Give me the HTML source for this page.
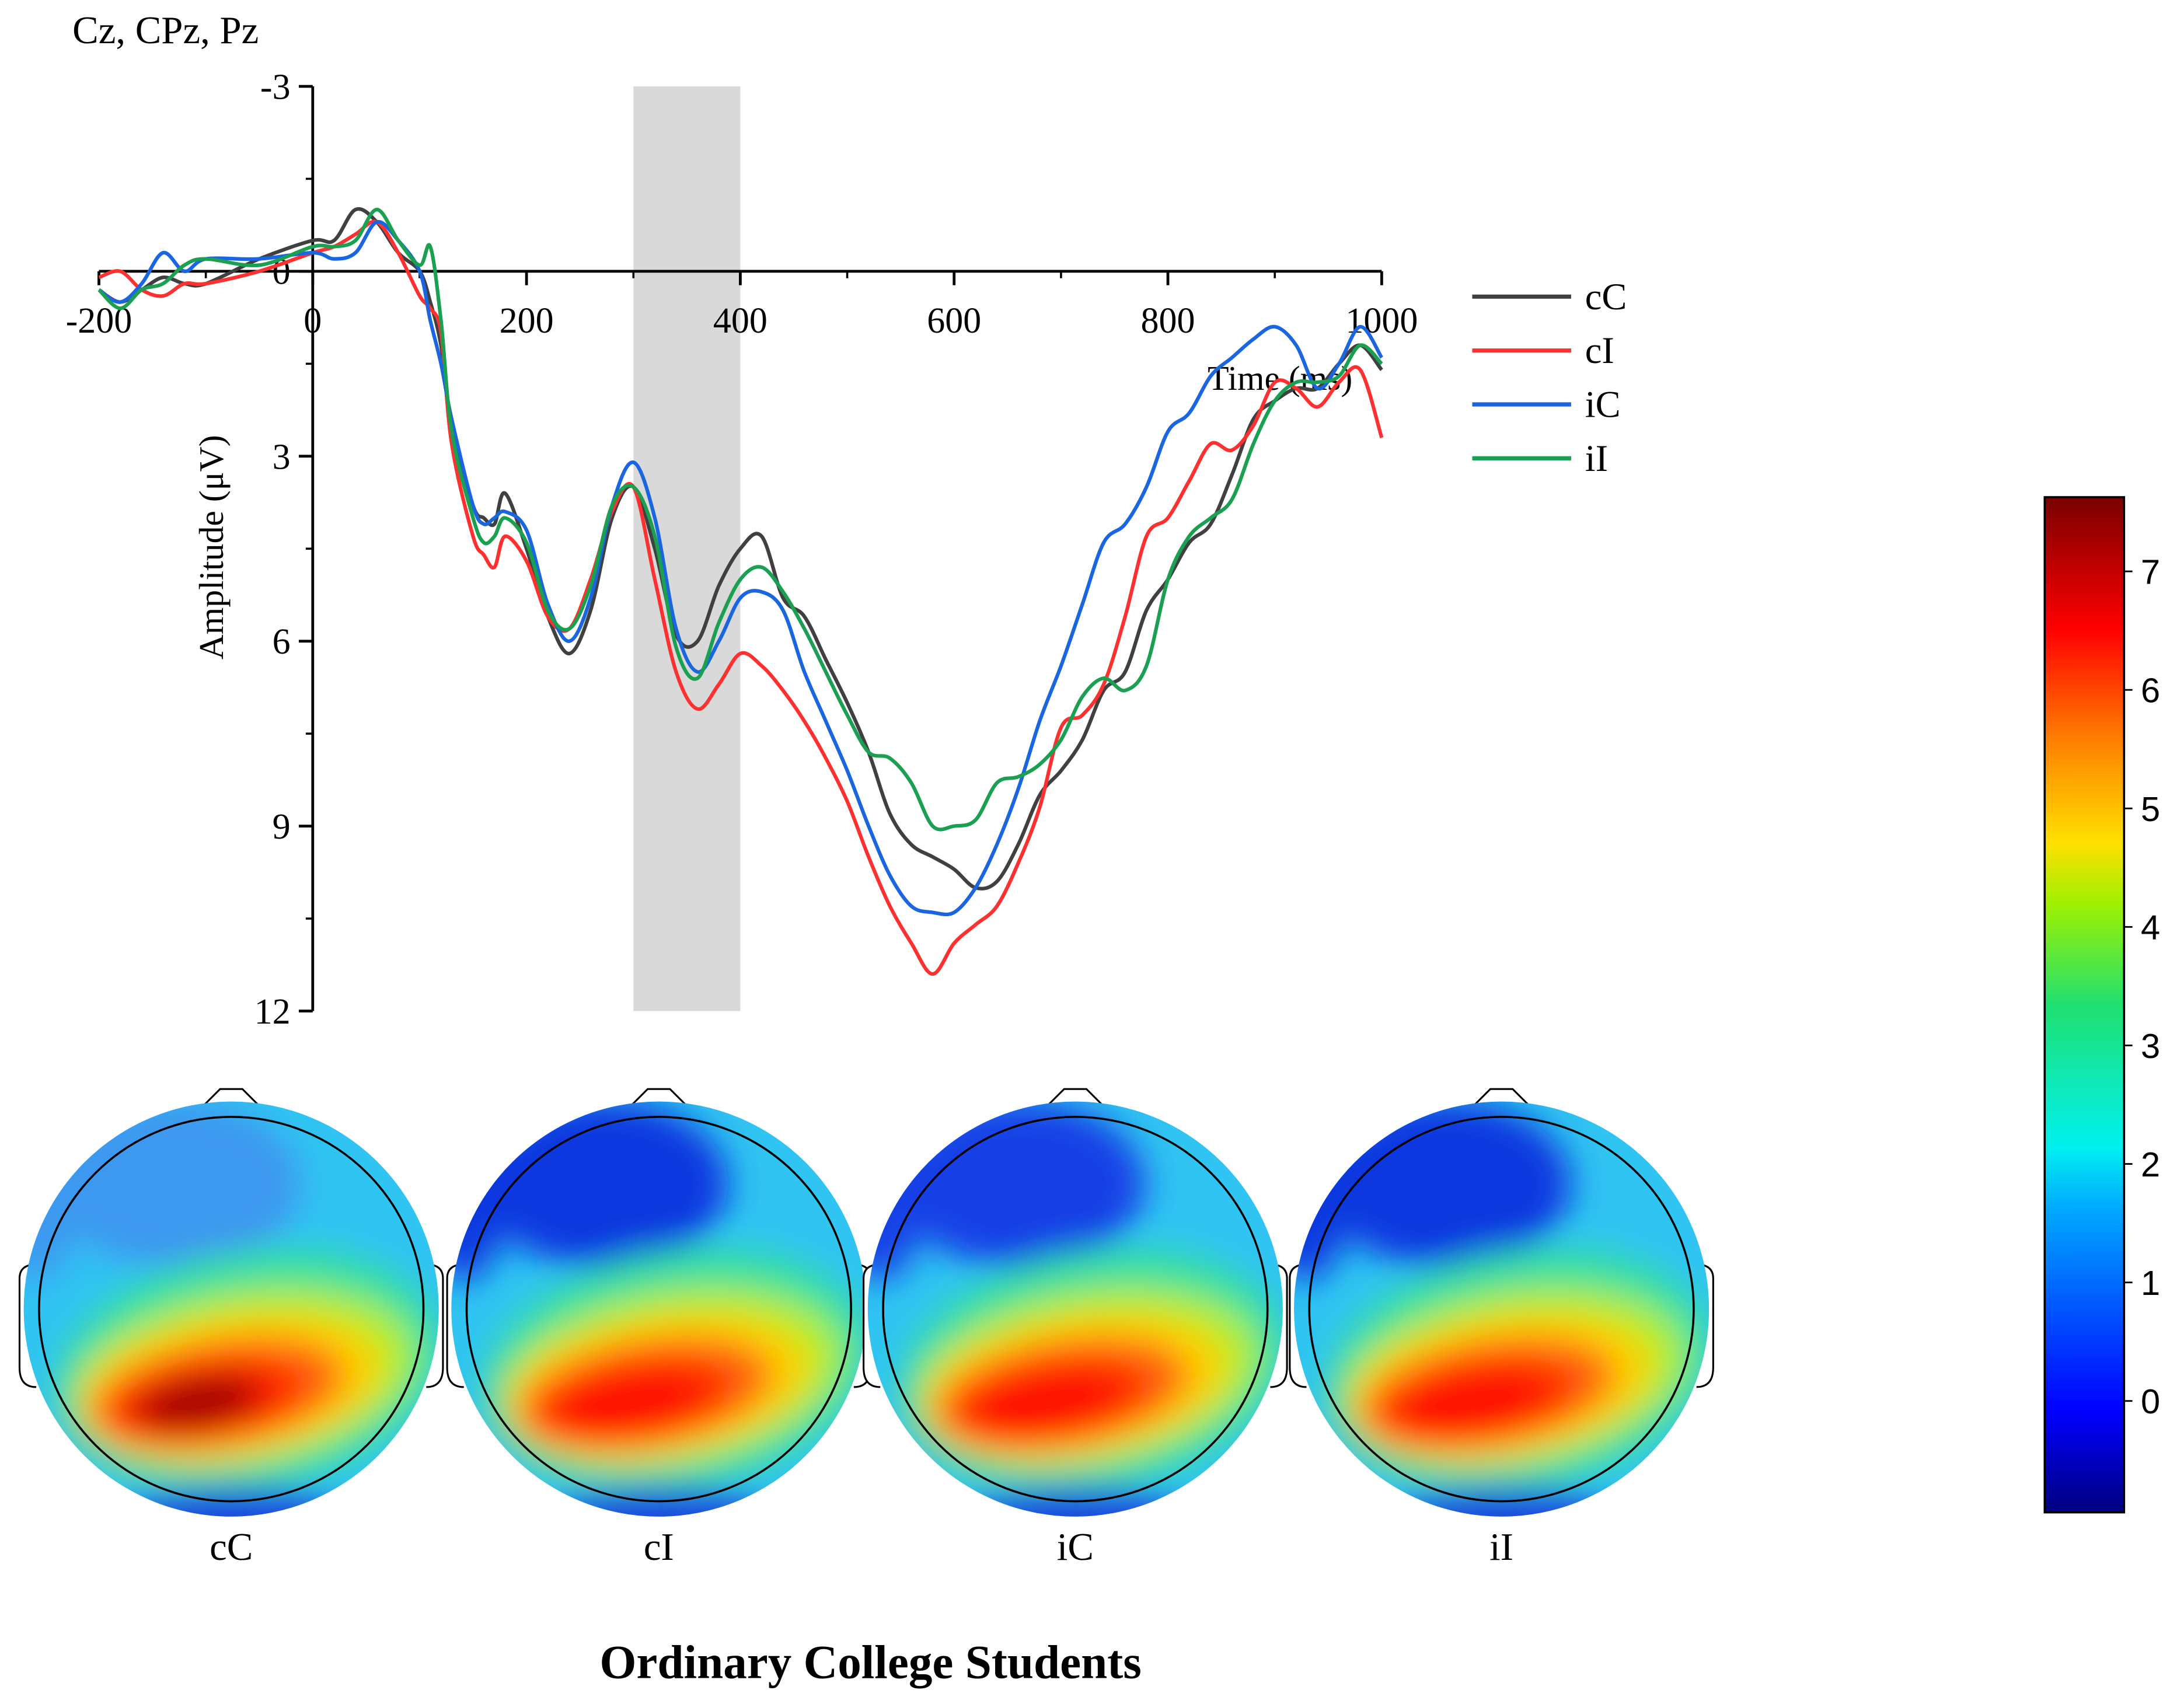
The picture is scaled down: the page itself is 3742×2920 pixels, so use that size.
<!DOCTYPE html>
<html><head><meta charset="utf-8">
<style>
html,body{margin:0;padding:0;background:#fff;}
svg{display:block;}
text{font-family:"Liberation Serif",serif;fill:#000;}
</style></head>
<body>
<svg id="chart" width="3742" height="2920" viewBox="0 0 1568 1223.6" xmlns="http://www.w3.org/2000/svg">
<defs>
  <filter id="blur" x="-30%" y="-30%" width="160%" height="160%"><feGaussianBlur stdDeviation="12"/></filter>
  <linearGradient id="cbar" x1="0" y1="1" x2="0" y2="0">
    <stop offset="0" stop-color="#00007f"/>
    <stop offset="0.1" stop-color="#0000ff"/>
    <stop offset="0.3" stop-color="#00aaff"/>
    <stop offset="0.36" stop-color="#00f0f0"/>
    <stop offset="0.5" stop-color="#20e070"/>
    <stop offset="0.6" stop-color="#a0f000"/>
    <stop offset="0.66" stop-color="#ffe000"/>
    <stop offset="0.76" stop-color="#ff8000"/>
    <stop offset="0.87" stop-color="#ff0000"/>
    <stop offset="1" stop-color="#7a0000"/>
  </linearGradient>
</defs>
<g id="plot"></g>
<g id="topos"></g>
<g id="colorbar"></g>
<text x="625" y="1205" text-anchor="middle" font-size="34" font-weight="bold">Ordinary College Students</text>
</svg>
<script>
const NS="http://www.w3.org/2000/svg";
const times=[-200,-180,-160,-140,-120,-100,-50,0,20,40,60,80,100,110,120,130,150,160,170,180,200,220,240,260,280,300,320,340,360,380,400,420,440,460,480,500,520,540,560,580,600,620,640,660,680,700,720,740,760,780,800,820,840,860,880,900,920,940,960,980,1000];
const cC=[0.3,0.5,0.3,0.1,0.2,0.2,-0.2,-0.5,-0.5,-1.0,-0.8,-0.3,0,0.5,1.2,2.5,3.8,4.0,4.1,3.6,4.5,5.6,6.2,5.5,4.0,3.5,4.5,5.9,6.0,5.1,4.5,4.3,5.3,5.6,6.3,7.0,7.8,8.8,9.3,9.5,9.7,10.0,9.9,9.3,8.5,8.1,7.6,6.8,6.5,5.5,5.0,4.4,4.1,3.3,2.4,2.1,1.9,1.9,1.5,1.2,1.6];
const cI=[0.1,0.0,0.3,0.4,0.2,0.2,0.0,-0.3,-0.4,-0.6,-0.8,-0.3,0.4,0.6,1.0,2.8,4.3,4.6,4.8,4.3,4.7,5.6,5.8,5.0,3.9,3.5,5.0,6.5,7.1,6.7,6.2,6.4,6.8,7.3,7.9,8.6,9.5,10.3,10.9,11.4,10.9,10.6,10.3,9.6,8.7,7.4,7.2,6.7,5.6,4.3,4.0,3.4,2.8,2.9,2.5,1.8,1.9,2.2,1.8,1.6,2.7];
const iC=[0.3,0.5,0.2,-0.3,0.0,-0.2,-0.2,-0.3,-0.2,-0.3,-0.8,-0.5,0.0,0.8,1.5,2.4,3.8,4.1,4.0,3.9,4.2,5.4,6.0,5.3,3.8,3.1,4.0,5.8,6.5,6.0,5.3,5.2,5.5,6.5,7.3,8.1,9.0,9.8,10.3,10.4,10.4,10.0,9.3,8.4,7.3,6.4,5.4,4.4,4.1,3.5,2.6,2.3,1.7,1.4,1.1,0.9,1.2,1.9,1.5,0.9,1.4];
const iI=[0.3,0.6,0.3,0.2,-0.1,-0.2,-0.1,-0.4,-0.4,-0.5,-1.0,-0.5,-0.1,-0.4,0.8,2.6,4.0,4.4,4.3,4.0,4.4,5.5,5.8,5.1,3.8,3.5,4.3,6.1,6.6,5.7,5.0,4.8,5.2,5.8,6.5,7.2,7.8,7.9,8.3,9.0,9.0,8.9,8.3,8.2,8.0,7.6,6.9,6.6,6.8,6.4,5.0,4.3,4.0,3.7,2.8,2.1,1.8,1.8,1.7,1.2,1.5];
const seriesNames=["cC","cI","iC","iI"];
const seriesColors=["#404040","#ff3030","#1a66e0","#1aa050"];
const xTicks=[-200,0,200,400,600,800,1000];
const yTicks=[-3,0,3,6,9,12];
const shade=[300,400];
const cbTicks=[0,1,2,3,4,5,6,7];

const X=t=>71+(t+200)*(921/1200);
const Y=v=>62+(v+3)*(664/15);
function el(tag,attrs,parent,txt){const e=document.createElementNS(NS,tag);for(const k in attrs)e.setAttribute(k,attrs[k]);if(txt!==undefined)e.textContent=txt;parent.appendChild(e);return e;}
function smooth(p){let d=`M${p[0][0].toFixed(1)},${p[0][1].toFixed(1)}`;for(let i=0;i<p.length-1;i++){const p0=p[Math.max(0,i-1)],p1=p[i],p2=p[i+1],p3=p[Math.min(p.length-1,i+2)];const c1=[p1[0]+(p2[0]-p0[0])/6,p1[1]+(p2[1]-p0[1])/6],c2=[p2[0]-(p3[0]-p1[0])/6,p2[1]-(p3[1]-p1[1])/6];d+=` C${c1[0].toFixed(1)},${c1[1].toFixed(1)} ${c2[0].toFixed(1)},${c2[1].toFixed(1)} ${p2[0].toFixed(1)},${p2[1].toFixed(1)}`;}return d;}

const plot=document.getElementById('plot');
let r=el('rect',{x:X(shade[0]),y:Y(-3),width:X(shade[1])-X(shade[0]),height:Y(12)-Y(-3),fill:'#d9d9d9'},plot);


let ya=el('line',{x1:X(0),y1:Y(-3),x2:X(0),y2:Y(12),stroke:'#000','stroke-width':2},plot);


let xa=el('line',{x1:X(-200),y1:Y(0),x2:X(1000),y2:Y(0),stroke:'#000','stroke-width':2},plot);


yTicks.forEach(v=>{
  el('line',{x1:X(0)-10,y1:Y(v),x2:X(0),y2:Y(v),stroke:'#000','stroke-width':2},plot);
  if(v<12) el('line',{x1:X(0)-5,y1:Y(v+1.5),x2:X(0),y2:Y(v+1.5),stroke:'#000','stroke-width':1.5},plot);
  if(v!==0){let t=el('text',{x:X(0)-16,y:Y(v)+9,'text-anchor':'end','font-size':26},plot,String(v));
  
  }
});
xTicks.forEach(v=>{
  el('line',{x1:X(v),y1:Y(0),x2:X(v),y2:Y(0)+10,stroke:'#000','stroke-width':2},plot);
  if(v<1000) el('line',{x1:X(v+100),y1:Y(0),x2:X(v+100),y2:Y(0)+5,stroke:'#000','stroke-width':1.5},plot);
  let t=el('text',{x:X(v),y:Y(0)+44,'text-anchor':'middle','font-size':26},plot,String(v));
  
  
});
let z=el('text',{x:X(0)-16,y:Y(0)+9,'text-anchor':'end','font-size':26},plot,'0');


let xt=el('text',{x:919,y:280,'text-anchor':'middle','font-size':25},plot,'Time (ms)');


let ytl=el('text',{x:0,y:0,'text-anchor':'middle','font-size':25,transform:'translate(160,393) rotate(-90)'},plot,'Amplitude (\u03bcV)');


let tt=el('text',{x:52,y:31,'font-size':28},plot,'Cz, CPz, Pz');



[cC,cI,iC,iI].forEach((arr,i)=>{
  const pts=arr.map((v,k)=>[X(times[k]),Y(v)]);
  let p=el('path',{d:smooth(pts),fill:'none',stroke:seriesColors[i],'stroke-width':2.6,'stroke-linejoin':'round'},plot);
  
  
  const ly=213+i*38.7;
  let ll=el('line',{x1:1057,y1:ly,x2:1128,y2:ly,stroke:seriesColors[i],'stroke-width':3},plot);
  
  
  let lt=el('text',{x:1138,y:ly+9,'font-size':27},plot,seriesNames[i]);
  
  
});

// topomaps
const topoNames=["cC","cI","iC","iI"];
const topoX=[166,473,772,1078];
const topoBlue=["#3c98f0","#1038e0","#1440e6","#1038e0"];
const topoCore=["#a00000","#ff0800","#ff1000","#ff0800"];
const tg=document.getElementById('topos');
topoNames.forEach((n,i)=>{
  const cx=topoX[i],cy=940;
  const g=el('g',{},tg);
  
  
  const cpth=el('clipPath',{id:'clip'+i},g);
  el('circle',{cx:cx,cy:cy,r:149},cpth);
  // ears & nose
  el('path',{d:`M${cx-140},${cy-32} q-12,0 -12,10 v64 q0,14 12,14`,fill:'#fff',stroke:'#000','stroke-width':1.3},g);
  el('path',{d:`M${cx+140},${cy-32} q12,0 12,10 v64 q0,14 -12,14`,fill:'#fff',stroke:'#000','stroke-width':1.3},g);
  el('path',{d:`M${cx-26},${cy-140} L${cx-8},${cy-158} L${cx+8},${cy-158} L${cx+26},${cy-140}`,fill:'#fff',stroke:'#000','stroke-width':1.3},g);
  const c=el('g',{'clip-path':`url(#clip${i})`},g);
  el('rect',{x:cx-160,y:cy-160,width:320,height:320,fill:'#30c4f2'},c);
  const b=el('g',{filter:'url(#blur)'},c);
  el('ellipse',{cx:cx-40,cy:cy-90,rx:90,ry:60,fill:topoBlue[i]},b);
  el('ellipse',{cx:cx-140,cy:cy-80,rx:30,ry:60,fill:topoBlue[i]},b);
  el('ellipse',{cx:cx+5,cy:cy+45,rx:140,ry:85,fill:'#30e0a0',transform:`rotate(-10 ${cx} ${cy})`},b);
  el('ellipse',{cx:cx,cy:cy+50,rx:125,ry:62,fill:'#b0f020',transform:`rotate(-10 ${cx} ${cy})`},b);
  el('ellipse',{cx:cx-10,cy:cy+55,rx:110,ry:50,fill:'#ffd000',transform:`rotate(-10 ${cx} ${cy})`},b);
  el('ellipse',{cx:cx-20,cy:cy+58,rx:92,ry:38,fill:'#ff6010',transform:`rotate(-10 ${cx} ${cy})`},b);
  el('ellipse',{cx:cx-30,cy:cy+62,rx:70,ry:27,fill:'#ff1a00',transform:`rotate(-10 ${cx} ${cy})`},b);
  el('ellipse',{cx:cx-35,cy:cy+62,rx:45,ry:18,fill:topoCore[i],transform:`rotate(-10 ${cx} ${cy})`},b);
  el('ellipse',{cx:cx,cy:cy+160,rx:95,ry:32,fill:'#1a40e0'},b);
  el('circle',{cx:cx,cy:cy,r:138,fill:'none',stroke:'#000','stroke-width':1.5},g);
  let lab=el('text',{x:cx,y:1120,'text-anchor':'middle','font-size':28},g,n);
  
  
});

// colorbar
const cb=document.getElementById('colorbar');
const CB=v=>1006-(v)*85.1;
let cr=el('rect',{x:1468,y:357,width:57,height:729,fill:'url(#cbar)',stroke:'#000','stroke-width':1.5},cb);


cbTicks.forEach(v=>{
  el('line',{x1:1525,y1:CB(v),x2:1531,y2:CB(v),stroke:'#000','stroke-width':1.2},cb);
  let t=el('text',{x:1537,y:CB(v)+9,'font-size':25,style:'font-family:"Liberation Sans",sans-serif'},cb,String(v));
  
  
});
</script>
</body></html>
